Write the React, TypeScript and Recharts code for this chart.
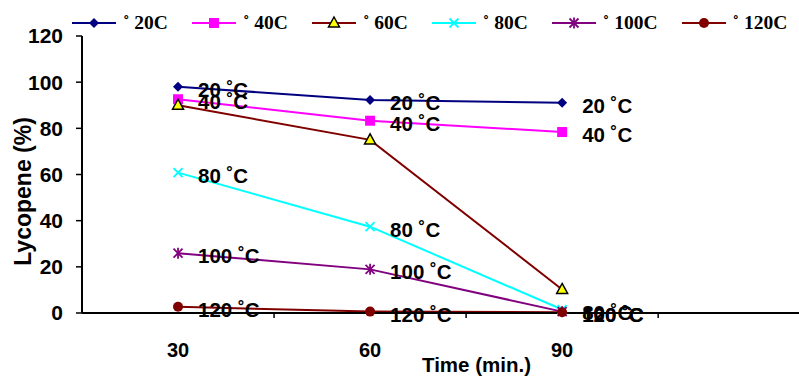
import React from "react";
import {
  LineChart,
  Line,
  XAxis,
  YAxis,
  Label,
  LabelList,
  ReferenceLine,
} from "recharts";

const times = [30, 60, 90];
const xTicks = [30, 60, 90];
const xBoundaries = [45, 75, 105];
const yTicks = [0, 20, 40, 60, 80, 100, 120];

const s20 = [98, 92.3, 91.1];
const s40 = [92.6, 83.3, 78.4];
const s60 = [90, 75, 10.2];
const s80 = [60.8, 37.4, 1.5];
const s100 = [25.9, 18.9, 0.6];
const s120 = [2.7, 0.6, 0.3];

const SANS = "'Liberation Sans', Arial, sans-serif";
const SERIF = "'Liberation Serif', 'Times New Roman', serif";

const data = times.map((t, i) => ({
  time: t,
  t20: s20[i],
  t40: s40[i],
  t60: s60[i],
  t80: s80[i],
  t100: s100[i],
  t120: s120[i],
}));

type Shape = "diamond" | "square" | "triangle" | "x" | "star" | "circle";

const drawMarker = (shape: Shape, color: string, cx: number, cy: number, key?: any) => {
  switch (shape) {
    case "diamond":
      return (
        <polygon key={key} points={`${cx},${cy - 5} ${cx + 5},${cy} ${cx},${cy + 5} ${cx - 5},${cy}`} fill={color} />
      );
    case "square":
      return <rect key={key} x={cx - 5} y={cy - 5} width={10} height={10} fill={color} />;
    case "triangle":
      return (
        <polygon
          key={key}
          points={`${cx},${cy - 6} ${cx + 5.5},${cy + 4} ${cx - 5.5},${cy + 4}`}
          fill="#FFFF00"
          stroke="#000"
          strokeWidth={1.5}
        />
      );
    case "x":
      return (
        <g key={key} stroke={color} strokeWidth={1.8}>
          <line x1={cx - 4.5} y1={cy - 4.5} x2={cx + 4.5} y2={cy + 4.5} />
          <line x1={cx - 4.5} y1={cy + 4.5} x2={cx + 4.5} y2={cy - 4.5} />
        </g>
      );
    case "star":
      return (
        <g key={key} stroke={color} strokeWidth={1.8}>
          <line x1={cx - 4.5} y1={cy - 4.5} x2={cx + 4.5} y2={cy + 4.5} />
          <line x1={cx - 4.5} y1={cy + 4.5} x2={cx + 4.5} y2={cy - 4.5} />
          <line x1={cx} y1={cy - 5.5} x2={cx} y2={cy + 5.5} />
        </g>
      );
    default:
      return <circle key={key} cx={cx} cy={cy} r={5} fill={color} />;
  }
};

const series: { key: string; name: string; label: string | null; color: string; shape: Shape }[] = [
  { key: "t20", name: "˚ 20C", label: "20 ˚C", color: "#000080", shape: "diamond" },
  { key: "t40", name: "˚ 40C", label: "40 ˚C", color: "#FF00FF", shape: "square" },
  { key: "t60", name: "˚ 60C", label: null, color: "#800000", shape: "triangle" },
  { key: "t80", name: "˚ 80C", label: "80 ˚C", color: "#00FFFF", shape: "x" },
  { key: "t100", name: "˚ 100C", label: "100 ˚C", color: "#800080", shape: "star" },
  { key: "t120", name: "˚ 120C", label: "120 ˚C", color: "#800000", shape: "circle" },
];

const LegendRow = () => (
  <div
    style={{
      position: "absolute",
      left: 72,
      top: 12,
      display: "flex",
      gap: 24,
      alignItems: "center",
      fontFamily: SERIF,
      fontWeight: 700,
      fontSize: 19.5,
      color: "#000",
    }}
  >
    {series.map((s) => (
      <div key={s.key} style={{ display: "flex", alignItems: "center", gap: 7 }}>
        <svg width={44} height={20}>
          <line x1={0} y1={10} x2={44} y2={10} stroke={s.color} strokeWidth={2} />
          {drawMarker(s.shape, s.color, 22, 10)}
        </svg>
        <span style={{ whiteSpace: "pre" }}>{s.name}</span>
      </div>
    ))}
  </div>
);

export default function App() {
  return (
    <div style={{ position: "absolute", left: 0, top: 0, width: 799, height: 377, background: "#fff" }}>
      <LineChart width={799} height={377} data={data} margin={{ top: 36, right: 0, bottom: 8, left: 0 }}>
        <XAxis
          dataKey="time"
          type="number"
          domain={[15, 127]}
          ticks={xTicks}
          tickLine={false}
          tickSize={0}
          tickMargin={30}
          axisLine={{ stroke: "#000", strokeWidth: 2 }}
          tick={{ fill: "#000", fontSize: 20, fontWeight: 700, fontFamily: SANS }}
          height={56}
        >
          <Label
            value="Time (min.)"
            position="insideBottom"
            offset={-3}
            dx={36}
            style={{ fill: "#000", fontSize: 20.5, fontWeight: 700, fontFamily: SANS }}
          />
        </XAxis>
        <YAxis
          type="number"
          domain={[0, 120]}
          ticks={yTicks}
          width={82}
          tickSize={6}
          tickMargin={13}
          axisLine={{ stroke: "#000", strokeWidth: 2 }}
          tickLine={{ stroke: "#000", strokeWidth: 1.5 }}
          tick={{ fill: "#000", fontSize: 21, fontWeight: 700, fontFamily: SANS }}
        >
          <Label
            content={({ viewBox }: any) => {
              const x = viewBox.x + 23;
              const y = viewBox.y + viewBox.height / 2 + 17;
              return (
                <text
                  x={x}
                  y={y}
                  transform={`rotate(-90, ${x}, ${y})`}
                  textAnchor="middle"
                  dominantBaseline="central"
                  style={{ fill: "#000", fontSize: 23, fontWeight: 700, fontFamily: SANS }}
                >
                  Lycopene (%)
                </text>
              );
            }}
          />
        </YAxis>
        {xBoundaries.map((b) => (
          <ReferenceLine
            key={b}
            segment={[
              { x: b, y: 0 },
              { x: b, y: -2.2 },
            ]}
            stroke="#000"
            strokeWidth={1.5}
            ifOverflow="visible"
          />
        ))}
        {series.map((s) => (
          <Line
            key={s.key}
            dataKey={s.key}
            name={s.name}
            stroke={s.color}
            strokeWidth={2}
            isAnimationActive={false}
            dot={(p: any) => drawMarker(s.shape, s.color, p.cx, p.cy, `${s.key}-${p.index}`)}
            activeDot={false}
          >
            {s.label && (
              <LabelList
                dataKey={s.key}
                content={(p: any) => (
                  <text
                    x={p.x + 20}
                    y={p.y + 2.5}
                    dominantBaseline="central"
                    style={{ fill: "#000", fontSize: 20.5, fontWeight: 700, fontFamily: SANS }}
                  >
                    {s.label}
                  </text>
                )}
              />
            )}
          </Line>
        ))}
      </LineChart>
      <LegendRow />
    </div>
  );
}
